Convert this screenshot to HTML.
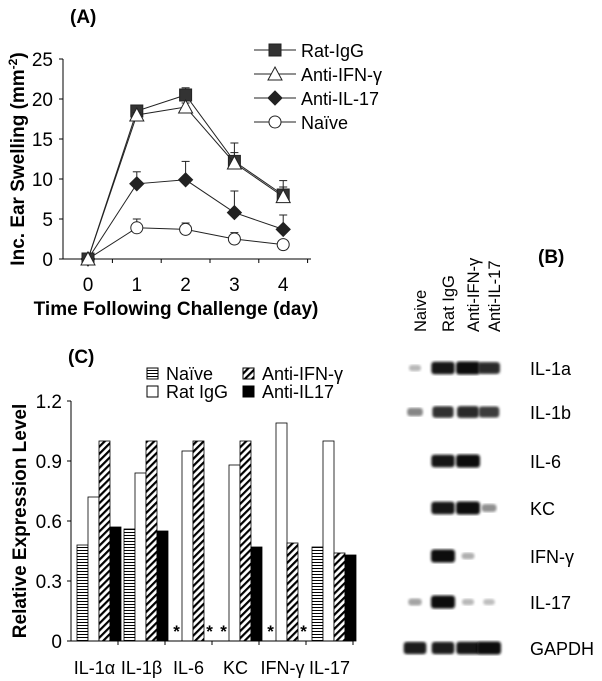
<!DOCTYPE html>
<html><head><meta charset="utf-8"><style>
html,body{margin:0;padding:0;background:#fff;}
svg{display:block;font-family:"Liberation Sans",Arial,sans-serif;}
</style></head><body>
<svg id="fig" width="602" height="681" viewBox="0 0 602 681" xmlns="http://www.w3.org/2000/svg">
<defs>
<pattern id="hstripe" width="4" height="3" patternUnits="userSpaceOnUse"><rect width="4" height="3" fill="#fff"/><line x1="0" y1="1.5" x2="4" y2="1.5" stroke="#000" stroke-width="1"/></pattern>
<pattern id="diag" width="5" height="5" patternUnits="userSpaceOnUse" patternTransform="rotate(45)"><rect width="5" height="5" fill="#fff"/><rect x="0" y="0" width="2.2" height="5" fill="#000"/></pattern>
<filter id="blur"><feGaussianBlur stdDeviation="1.3"/></filter>
</defs>
<g id="panelA"></g>
<g id="panelC"></g>
<g id="panelB"></g>
</svg>
<script>
// ---------- Panel A data ----------
const daysA = [0,1,2,3,4];
const ratIgG = [0,18.5,20.5,12.2,8.0];
const ratIgGErr = [0,0.4,0.9,2.3,1.8];
const antiIFN = [0,18.0,19.0,12.0,7.8];
const antiIFNErr = [0,0.3,0.5,1.3,1.2];
const antiIL17 = [0,9.4,9.9,5.8,3.7];
const antiIL17Err = [0,1.5,2.3,2.7,1.8];
const naive = [0,3.9,3.7,2.5,1.8];
const naiveErr = [0,1.1,0.8,0.8,0.3];
const yTicksA = [0,5,10,15,20,25];
// ---------- Panel C data ----------
const catsC = ["IL-1\u03b1","IL-1\u03b2","IL-6","KC","IFN-\u03b3","IL-17"];
const cNaive = [0.48,0.56,0,0,0,0.47];
const cRat = [0.72,0.84,0.95,0.88,1.09,1.0];
const cAntiIFN = [1,1,1,1,0.49,0.44];
const cAntiIL17 = [0.57,0.55,0,0.47,0,0.43];
const yTicksC = [0,0.3,0.6,0.9,1.2];
// ---------- Panel B data ----------
const lanesB = ["Naive","Rat IgG","Anti-IFN-\u03b3","Anti-IL-17"];
const genesB = ["IL-1a","IL-1b","IL-6","KC","IFN-\u03b3","IL-17","GAPDH"];
const bandIntensity = [
 [0.15,0.95,1.0,0.85],
 [0.4,0.8,0.85,0.75],
 [0,0.95,1.0,0],
 [0,0.95,1.0,0.35],
 [0,1.0,0.2,0],
 [0.25,1.0,0.15,0.12],
 [0.9,0.9,0.95,1.0]
];

const NS="http://www.w3.org/2000/svg";
function mk(tag,attrs,parent,text){const e=document.createElementNS(NS,tag);for(const k in attrs)e.setAttribute(k,attrs[k]);if(text!==undefined)e.textContent=text;parent.appendChild(e);return e;}

// ===== Panel A =====
const A=document.getElementById('panelA');
const axA={x0:63,x1:311,y0:259,y1:59};
const xA=d=>88+d*48.8;
const yA=v=>axA.y0-v*(axA.y0-axA.y1)/25;
let t=mk('text',{x:70,y:23,'font-size':19,'font-weight':'bold'},A,'(A)');


let ax=mk('path',{d:`M${axA.x0},${axA.y1} V${axA.y0} H${axA.x1}`,stroke:'#000',fill:'none','stroke-width':1},A);


yTicksA.forEach(v=>{
  mk('line',{x1:axA.x0-4,x2:axA.x0,y1:yA(v),y2:yA(v),stroke:'#000'},A);
  const l=mk('text',{x:53,y:yA(v)+7,'font-size':19,'text-anchor':'end'},A,String(v));
  
  
});
daysA.forEach((d,i)=>{
  mk('line',{x1:xA(d)+24.4,x2:xA(d)+24.4,y1:axA.y0,y2:axA.y0+4,stroke:'#000'},A);
  const l=mk('text',{x:xA(d),y:291,'font-size':19,'text-anchor':'middle'},A,String(d));
  
  
});
t=mk('text',{x:176,y:315,'font-size':19,'font-weight':'bold','text-anchor':'middle'},A,'Time Following Challenge (day)');


t=mk('text',{transform:'translate(24,159) rotate(-90)','font-size':19,'font-weight':'bold','text-anchor':'middle'},A);
t.innerHTML='Inc. Ear Swelling (mm<tspan dy="-7" font-size="12">-2</tspan><tspan dy="7">)</tspan>';


function marker(g,type,x,y){
  if(type==='sq')return mk('rect',{x:x-6,y:y-6,width:12,height:12,fill:'#333',stroke:'#222'},g);
  if(type==='tri')return mk('path',{d:`M${x},${y-7} L${x+7},${y+6} L${x-7},${y+6} Z`,fill:'#fff',stroke:'#222'},g);
  if(type==='dia')return mk('path',{d:`M${x},${y-7} L${x+7},${y} L${x},${y+7} L${x-7},${y} Z`,fill:'#222',stroke:'#222'},g);
  return mk('circle',{cx:x,cy:y,r:6,fill:'#fff',stroke:'#222'},g);
}
const seriesA=[
 {name:'naive',vals:naive,err:naiveErr,m:'circ'},
 {name:'anti-il17',vals:antiIL17,err:antiIL17Err,m:'dia'},
 {name:'rat-igg',vals:ratIgG,err:ratIgGErr,m:'sq'},
 {name:'anti-ifn',vals:antiIFN,err:antiIFNErr,m:'tri'}
];
seriesA.forEach(s=>{
  const g=mk('g',{},A);
  
  
  s.vals.forEach((v,i)=>{ if(s.err[i]>0){
    mk('line',{x1:xA(daysA[i]),x2:xA(daysA[i]),y1:yA(v),y2:yA(v+s.err[i]),stroke:'#222'},g);
    mk('line',{x1:xA(daysA[i])-4,x2:xA(daysA[i])+4,y1:yA(v+s.err[i]),y2:yA(v+s.err[i]),stroke:'#222'},g);}});
  const ln=mk('polyline',{points:s.vals.map((v,i)=>xA(daysA[i])+','+yA(v)).join(' '),fill:'none',stroke:'#222','stroke-width':1},g);
  
  
  s.vals.forEach((v,i)=>{const m=marker(g,s.m,xA(daysA[i]),yA(v));
    
    });
});
const legA=[['sq','Rat-IgG'],['tri','Anti-IFN-\u03b3'],['dia','Anti-IL-17'],['circ','Na\u00efve']];
legA.forEach((e,i)=>{
  const y=50+i*24;
  const g=mk('g',{},A);
  
  
  mk('line',{x1:254,x2:296,y1:y,y2:y,stroke:'#222'},g);
  marker(g,e[0],275,y);
  mk('text',{x:301,y:y+7,'font-size':18},g,e[1]);
});

// ===== Panel C =====
const C=document.getElementById('panelC');
const axC={x0:71,x1:353,y0:641,y1:401};
const yC=v=>axC.y0-v*(axC.y0-axC.y1)/1.2;
const gw=47, bw=11;
t=mk('text',{x:68,y:363,'font-size':19,'font-weight':'bold'},C,'(C)');


yTicksC.forEach(v=>{
  mk('line',{x1:axC.x0-4,x2:axC.x0,y1:yC(v),y2:yC(v),stroke:'#000'},C);
  const l=mk('text',{x:62,y:yC(v)+7,'font-size':19,'text-anchor':'end'},C,v===0?'0':v.toFixed(1));
  
  
});
t=mk('text',{transform:'translate(26,521) rotate(-90)','font-size':19,'font-weight':'bold','text-anchor':'middle'},C,'Relative Expression Level');


const seriesC=[[cNaive,'url(#hstripe)','naive'],[cRat,'#fff','rat-igg'],[cAntiIFN,'url(#diag)','anti-ifn'],[cAntiIL17,'#000','anti-il17']];
catsC.forEach((c,ci)=>{
  const gx=axC.x0+ci*gw;
  mk('line',{x1:gx+gw,x2:gx+gw,y1:axC.y0,y2:axC.y0+4,stroke:'#000'},C);
  const l=mk('text',{x:gx+gw/2,y:674,'font-size':18,'text-anchor':'middle'},C,c);
  
  
  seriesC.forEach((s,si)=>{
    const v=s[0][ci], x=gx+6+si*bw;
    if(v>0){
      const r=mk('rect',{x:x,y:yC(v),width:bw,height:axC.y0-yC(v),fill:s[1],stroke:'#000','stroke-width':0.8},C);
      
      
    } else {
      const a=mk('text',{x:x+bw/2,y:axC.y0-4,'font-size':17,'font-weight':'bold','text-anchor':'middle'},C,'*');
      
      
    }
  });
});
ax=mk('path',{d:`M${axC.x0},${axC.y1} V${axC.y0} H${axC.x1}`,stroke:'#000',fill:'none'},C);


const legC=[[147,368,'url(#hstripe)','Na\u00efve'],[243,368,'url(#diag)','Anti-IFN-\u03b3'],[147,386,'#fff','Rat IgG'],[243,386,'#000','Anti-IL17']];
legC.forEach(e=>{
  const g=mk('g',{},C);
  
  
  mk('rect',{x:e[0],y:e[1],width:11,height:11,fill:e[2],stroke:'#000'},g);
  mk('text',{x:e[0]+19,y:e[1]+12,'font-size':18},g,e[3]);
});

// ===== Panel B =====
const B=document.getElementById('panelB');
t=mk('text',{x:538,y:263,'font-size':19,'font-weight':'bold'},B,'(B)');


const laneX=[415,443,468,489];
const rowY=[368,412,461,508,556,602,648];
lanesB.forEach((n,i)=>{
  const l=mk('text',{transform:`translate(${laneX[i]+11},332) rotate(-90)`,'font-size':16.5},B,n);
  
  
});
genesB.forEach((gname,ri)=>{
  const l=mk('text',{x:530,y:rowY[ri]+7,'font-size':18},B,gname);
  
  
  bandIntensity[ri].forEach((v,li)=>{
    if(v<=0)return;
    const w=10+v*14, h=5+v*8;
    const shade=Math.round(215-v*205);
    const b=mk('rect',{x:laneX[li]-w/2,y:rowY[ri]-h/2,width:w,height:h,rx:3,fill:`rgb(${shade},${shade},${shade})`,filter:'url(#blur)'},B);
    
    
  });
});
</script>
</body></html>
